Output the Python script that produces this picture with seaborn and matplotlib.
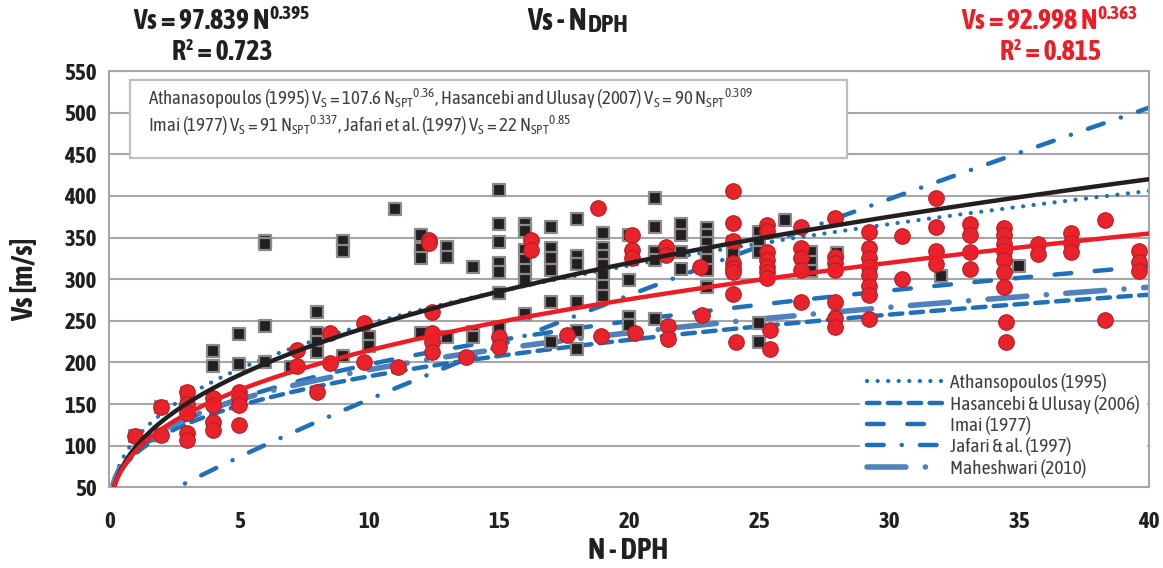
import numpy as np
import matplotlib
matplotlib.use("Agg")
import matplotlib.pyplot as plt
import matplotlib.font_manager as fm
from matplotlib.patches import Rectangle
import seaborn as sns

# ---------------- data ----------------
black_n = [1, 2, 2, 3, 3, 3, 4, 4, 5, 5,
           4, 4, 5, 5, 6, 6, 6, 6, 7, 8, 8, 8, 8, 9, 9, 9, 10, 10,
           11, 12, 12, 12, 12, 13, 13, 13, 14, 14, 14,
           15, 15, 15, 15, 15, 15, 15,
           16, 16, 16, 16, 16, 16, 16,
           17, 17, 17, 17, 17, 17,
           18, 18, 18, 18, 18, 18,
           19, 19, 19, 19, 19, 19, 19,
           20, 20, 20, 20,
           21, 21, 21, 21, 21,
           22, 22, 22, 22,
           23, 23, 23, 23, 23, 23, 23,
           24, 24,
           25, 25, 25, 25, 25,
           26, 27, 27, 27, 28, 32, 35]
black_vs = [112, 147, 113, 163, 150, 140, 155, 125, 160, 150,
            214, 196, 234, 198, 346, 342, 244, 200, 195, 260, 235, 224, 212, 346, 334, 208, 231, 220,
            384, 353, 336, 326, 235, 339, 327, 231, 314, 236, 230,
            407, 366, 345, 319, 309, 283, 242,
            366, 358, 335, 323, 311, 299, 258,
            363, 337, 325, 311, 272, 224,
            372, 328, 318, 272, 238, 216,
            356, 337, 328, 317, 305, 292, 280,
            353, 299, 255, 245,
            398, 363, 333, 323, 252,
            366, 353, 333, 312,
            362, 353, 343, 333, 323, 311, 290,
            331, 345,
            357, 345, 333, 247, 224,
            371, 333, 320, 310, 332, 304, 316]

red_n = [1, 2, 2, 3, 3, 3, 3, 3, 4, 4, 4, 4, 5, 5, 5, 5,
         7.2, 7.2, 8, 8.5, 8.5, 9.8, 9.8, 11.1,
         12.3, 12.3, 12.4, 12.4, 12.4, 12.4, 13.7, 15, 15,
         16.2, 16.2, 17.6, 18.8, 18.9,
         20.1, 20.1, 20.1, 20.2, 21.4, 21.4, 21.5, 21.5, 22.7, 22.8,
         24, 24, 24, 24, 24, 24, 24, 24.1,
         25.3, 25.3, 25.3, 25.3, 25.3, 25.3, 25.3, 25.4, 25.4,
         26.6, 26.6, 26.6, 26.6, 26.6,
         27.9, 27.9, 27.9, 27.9, 27.9, 27.9, 27.9,
         29.2, 29.2, 29.2, 29.2, 29.2, 29.2, 29.2, 29.2,
         30.5, 30.5, 31.8, 31.8, 31.8, 31.8,
         33.1, 33.1, 33.1, 33.1,
         34.4, 34.4, 34.4, 34.4, 34.4, 34.4, 34.4, 34.5, 34.5,
         35.7, 35.7, 37, 37, 37, 38.3, 38.3, 39.6, 39.6, 39.6]
red_vs = [112, 147, 113, 164, 150, 139, 115, 107, 157, 149, 129, 119, 165, 157, 149, 125,
          215, 196, 165, 235, 199, 247, 200, 195,
          347, 344, 260, 235, 224, 213, 207, 231, 219,
          347, 335, 233, 385, 232,
          353, 335, 326, 235, 339, 329, 244, 228, 315, 257,
          406, 367, 346, 319, 313, 308, 282, 224,
          365, 358, 333, 323, 315, 309, 301, 239, 216,
          363, 338, 325, 311, 272,
          373, 327, 319, 311, 272, 253, 243,
          357, 338, 325, 315, 305, 292, 281, 252,
          352, 300, 397, 363, 334, 318,
          366, 353, 333, 312,
          362, 353, 342, 334, 323, 309, 291, 248, 224,
          342, 330, 355, 344, 333, 371, 251, 334, 320, 310]

# power-law models  Vs = a * N^b
model_names = ["Athansopoulos (1995)", "Hasancebi & Ulusay (2006)", "Imai (1977)",
               "Jafari & al. (1997)", "Maheshwari (2010)"]
model_a = [107.6, 90, 91, 22, 95.64]
model_b = [0.36, 0.309, 0.337, 0.85, 0.301]
fit_black = (97.839, 0.395)
fit_red = (92.998, 0.363)

x_ticks = [0, 5, 10, 15, 20, 25, 30, 35, 40]
y_ticks = [50, 100, 150, 200, 250, 300, 350, 400, 450, 500, 550]

# ---------------- fonts ----------------
sns.set_theme(style="white")


def _w(w):
    if isinstance(w, (int, float)):
        return int(w)
    return {"bold": 700, "heavy": 800, "black": 900, "semibold": 600, "demibold": 600,
            "medium": 500, "normal": 400, "regular": 400, "book": 400,
            "light": 300}.get(str(w).lower(), 400)


info = {}
for f in fm.fontManager.ttflist:
    if ("Narrow" in f.name) or ("Condensed" in f.name):
        info.setdefault(f.name, set()).add((_w(f.weight), f.style))

reg_font = "Liberation Sans"
bold_font = "Liberation Sans"
bold_narrow = False
pref = ["Liberation Sans Narrow"] + sorted(info)
for n in pref:
    if n in info:
        ws = {w for w, s in info[n] if s == "normal"}
        if any(w >= 600 for w in ws) and any(350 <= w <= 500 for w in ws):
            reg_font = n
            bold_font = n
            bold_narrow = True
            break
if not bold_narrow:
    for n in pref:
        if n in info:
            ws = {w for w, s in info[n] if s == "normal"}
            if any(350 <= w <= 500 for w in ws):
                reg_font = n
                break

plt.rcParams["font.family"] = [reg_font, "DejaVu Sans"]
plt.rcParams["mathtext.fontset"] = "custom"
plt.rcParams["mathtext.rm"] = reg_font
plt.rcParams["mathtext.bf"] = bold_font + ":bold"
plt.rcParams["mathtext.it"] = reg_font + ":italic"
plt.rcParams["lines.scale_dashes"] = False

BF = [bold_font, "DejaVu Sans"]
k = 1.0 if bold_narrow else 0.86   # size factor for wide bold fallback
narrow_reg = reg_font != "Liberation Sans"

fig = plt.figure(figsize=(11.63, 5.68), dpi=100)
ax = fig.add_axes([109.3 / 1163, 1 - 487.3 / 568, 1040 / 1163, 416.3 / 568])

blue = "#1f70b8"
lblue = "#4f81bd"
styles = [
    dict(color=blue, lw=3.0, linestyle=(0, (0.1, 7.5)), dash_capstyle="round"),
    dict(color=blue, lw=3.2, linestyle=(0, (9, 6)), dash_capstyle="round"),
    dict(color=blue, lw=3.2, linestyle=(0, (12, 17)), dash_capstyle="round"),
    dict(color=blue, lw=3.2, linestyle=(0, (12, 13, 0.1, 13)), dash_capstyle="round"),
    dict(color=lblue, lw=4.0, linestyle=(0, (28, 14, 0.1, 14)), dash_capstyle="round"),
]

N = np.linspace(0.02, 40.5, 800)
handles = []
for name, a, b, st in zip(model_names, model_a, model_b, styles):
    h, = ax.plot(N, a * N ** b, label=name, zorder=2, **st)
    handles.append(h)

sns.scatterplot(x=black_n, y=black_vs, ax=ax, marker="s", s=80, color="#231f20",
                edgecolor="#8a8a8a", linewidth=1.6, zorder=3)
sns.scatterplot(x=red_n, y=red_vs, ax=ax, marker="o", s=125, color="#e8232b",
                edgecolor="#b81c22", linewidth=0.8, zorder=4)

ax.plot(N, fit_black[0] * N ** fit_black[1], color="#231f20", lw=3.2, zorder=5,
        solid_capstyle="butt")
ax.plot(N, fit_red[0] * N ** fit_red[1], color="#ee1c25", lw=3.2, zorder=5,
        solid_capstyle="butt")

ax.set_xlim(0, 40)
ax.set_ylim(50, 550)
ax.set_xticks(x_ticks)
ax.set_yticks(y_ticks)
ax.yaxis.grid(True, color="#a6a6a6", lw=1.5)
ax.set_axisbelow(True)
for side in ["left", "bottom", "right", "top"]:
    ax.spines[side].set_color("#a6a6a6")
    ax.spines[side].set_linewidth(1.5)
ax.tick_params(axis="both", which="both", direction="out", length=5, width=1.2,
               color="#a6a6a6", pad=4)
ax.tick_params(axis="x", pad=12)
for lab in ax.get_xticklabels() + ax.get_yticklabels():
    lab.set_fontweight("bold")
    lab.set_family(BF)
    lab.set_fontsize(16.5 * k)
    lab.set_color("#231f20")

# label/title texts
fig.text(0.0215, 0.509, "Vs [m/s]", rotation=90, ha="center", va="center",
         fontsize=21 * k, fontweight="bold", family=BF, color="#231f20")
fig.text(0.54, 0.03, "N - DPH", ha="center", va="center",
         fontsize=21 * k, fontweight="bold", family=BF, color="#231f20")

t1 = fig.text(527 / 1163, 1 - 22 / 568, "Vs - N", ha="left", va="center",
              fontsize=22 * k, fontweight="bold", family=BF, color="#231f20")
ax.annotate("DPH", xy=(1, 0), xycoords=t1, xytext=(0.8, 0), textcoords="offset points",
            ha="left", va="bottom", fontsize=18 * k, fontweight="bold", family=BF,
            color="#231f20", annotation_clip=False)

for cx, eq, r2, col in [(222, r"Vs = 97.839 N$^{\mathbf{0.395}}$", "R² = 0.723", "#231f20"),
                        (1050, r"Vs = 92.998 N$^{\mathbf{0.363}}$", "R² = 0.815", "#ee1c25")]:
    fig.text(cx / 1163, 1 - 22 / 568, eq, ha="center", va="center",
             fontsize=20 * k, fontweight="bold", family=BF, color=col)
    fig.text(cx / 1163, 1 - 52 / 568, r2, ha="center", va="center",
             fontsize=20 * k, fontweight="bold", family=BF, color=col)

# equation box
bx0 = (130 - 109.3) / 1040
bx1 = (847 - 109.3) / 1040
by0 = (487.3 - 158) / 416.3
by1 = (487.3 - 80) / 416.3
ax.add_patch(Rectangle((bx0, by0), bx1 - bx0, by1 - by0, transform=ax.transAxes,
                       facecolor="white", edgecolor="#bfbfbf", lw=1.6, zorder=6))
line1 = (r"Athanasopoulos (1995) V$_\mathregular{S}$ = 107.6 N$_\mathregular{SPT}$$^\mathregular{0.36}$, "
         r"Hasancebi and Ulusay (2007) V$_\mathregular{S}$ = 90 N$_\mathregular{SPT}$$^\mathregular{0.309}$")
line2 = (r"Imai (1977) V$_\mathregular{S}$ = 91 N$_\mathregular{SPT}$$^\mathregular{0.337}$, "
         r"Jafari et al. (1997) V$_\mathregular{S}$ = 22 N$_\mathregular{SPT}$$^\mathregular{0.85}$")
fs_box = 13.6 if narrow_reg else 10.9
ax.text((148 - 109.3) / 1040, (487.3 - 99) / 416.3, line1, transform=ax.transAxes,
        ha="left", va="center", fontsize=fs_box, color="#404040", zorder=7)
ax.text((148 - 109.3) / 1040, (487.3 - 126) / 416.3, line2, transform=ax.transAxes,
        ha="left", va="center", fontsize=fs_box, color="#404040", zorder=7)

fs_leg = 14.0 if narrow_reg else 11.5
leg = ax.legend(handles=handles, loc="lower right", bbox_to_anchor=(1.0, 0.0),
                frameon=True, facecolor="white", edgecolor="white", framealpha=1,
                fancybox=False, handlelength=4.8 * 11.5 / fs_leg, handletextpad=0.3,
                labelspacing=0.12, fontsize=fs_leg, borderaxespad=0.15, borderpad=0.35,
                labelcolor="#404040")
leg.set_zorder(8)

fig.savefig("out.png", dpi=100)
